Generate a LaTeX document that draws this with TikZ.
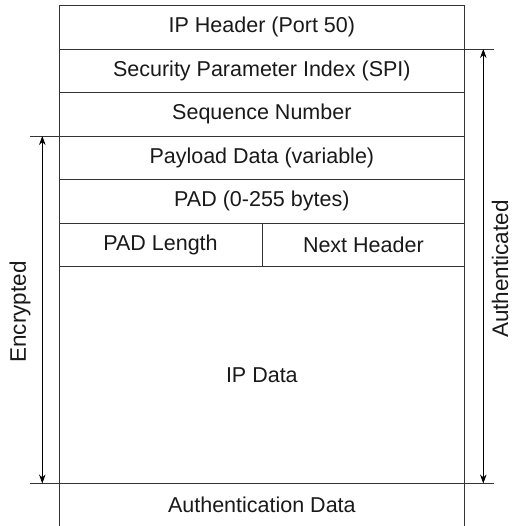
\documentclass[tikz,border=0pt]{standalone}
\usepackage{fontspec}
\setmainfont{Liberation Sans}
\usetikzlibrary{arrows.meta,positioning}

\tikzset{
  field/.style={draw=black!80, line width=0.8pt, outer sep=0pt, inner sep=0pt,
    minimum width=405.7pt, minimum height=43.5pt, text=black!90,
    font=\fontsize{21.5}{24}\selectfont},
  rule/.style={draw=black!80, line width=0.8pt},
  span/.style={draw=black, line width=0.8pt,
    {Stealth[length=9pt,width=6.5pt]}-{Stealth[length=9pt,width=6.5pt]}},
  sidelabel/.style={rotate=90, inner sep=0pt, text=black!90,
    font=\fontsize{22.5}{24}\selectfont}
}

\begin{document}
\begin{tikzpicture}[x=1pt, y=-1pt]
	\useasboundingbox (0, 0) rectangle (514, 526);

	% packet fields
	\node[field] (ipheader) at (261.85, 27.25) {IP Header (Port 50)};
	\node[field, below=0pt of ipheader] (spi) {Security Parameter Index (SPI)};
	\node[field, below=0pt of spi] (seqnum) {Sequence Number};
	\node[field, below=0pt of seqnum] (payload) {Payload Data (variable)};
	\node[field, below=0pt of payload] (pad) {PAD (0-255 bytes)};
	\node[field, minimum width=203pt, anchor=north west] (padlen) at (pad.south west) {PAD Length};
	\node[field, minimum width=202.7pt, anchor=north east] (nexthdr) at (pad.south east) {Next Header};
	\node[field, minimum height=217pt, anchor=north west] (ipdata) at (padlen.south west) {IP Data};
	\node[field, draw=none, below=0pt of ipdata] (authdata) {Authentication Data};
	\draw[rule] (ipdata.south west) -- (authdata.south west);
	\draw[rule] (ipdata.south east) -- (authdata.south east);

	% extension rules
	\draw[rule] (payload.north west) -- ++(-29, 0);
	\draw[rule] (ipdata.south west) -- ++(-29, 0);
	\draw[rule] (ipheader.south east) -- ++(29.5, 0);
	\draw[rule] (ipdata.south east) -- ++(29.5, 0);

	% coverage arrows
	\coordinate (enctop) at ([xshift=-16.7pt]payload.north west);
	\coordinate (encbot) at ([xshift=-16.7pt]ipdata.south west);
	\coordinate (authtop) at ([xshift=18.6pt]ipheader.south east);
	\coordinate (authbot) at ([xshift=18.6pt]ipdata.south east);
	\draw[span] (enctop) -- (encbot);
	\draw[span] (authtop) -- (authbot);

	\node[sidelabel] (enclabel) at (20, 312) {Encrypted};
	\node[sidelabel] (authlabel) at (500, 269) {Authenticated};
\end{tikzpicture}
\end{document}
